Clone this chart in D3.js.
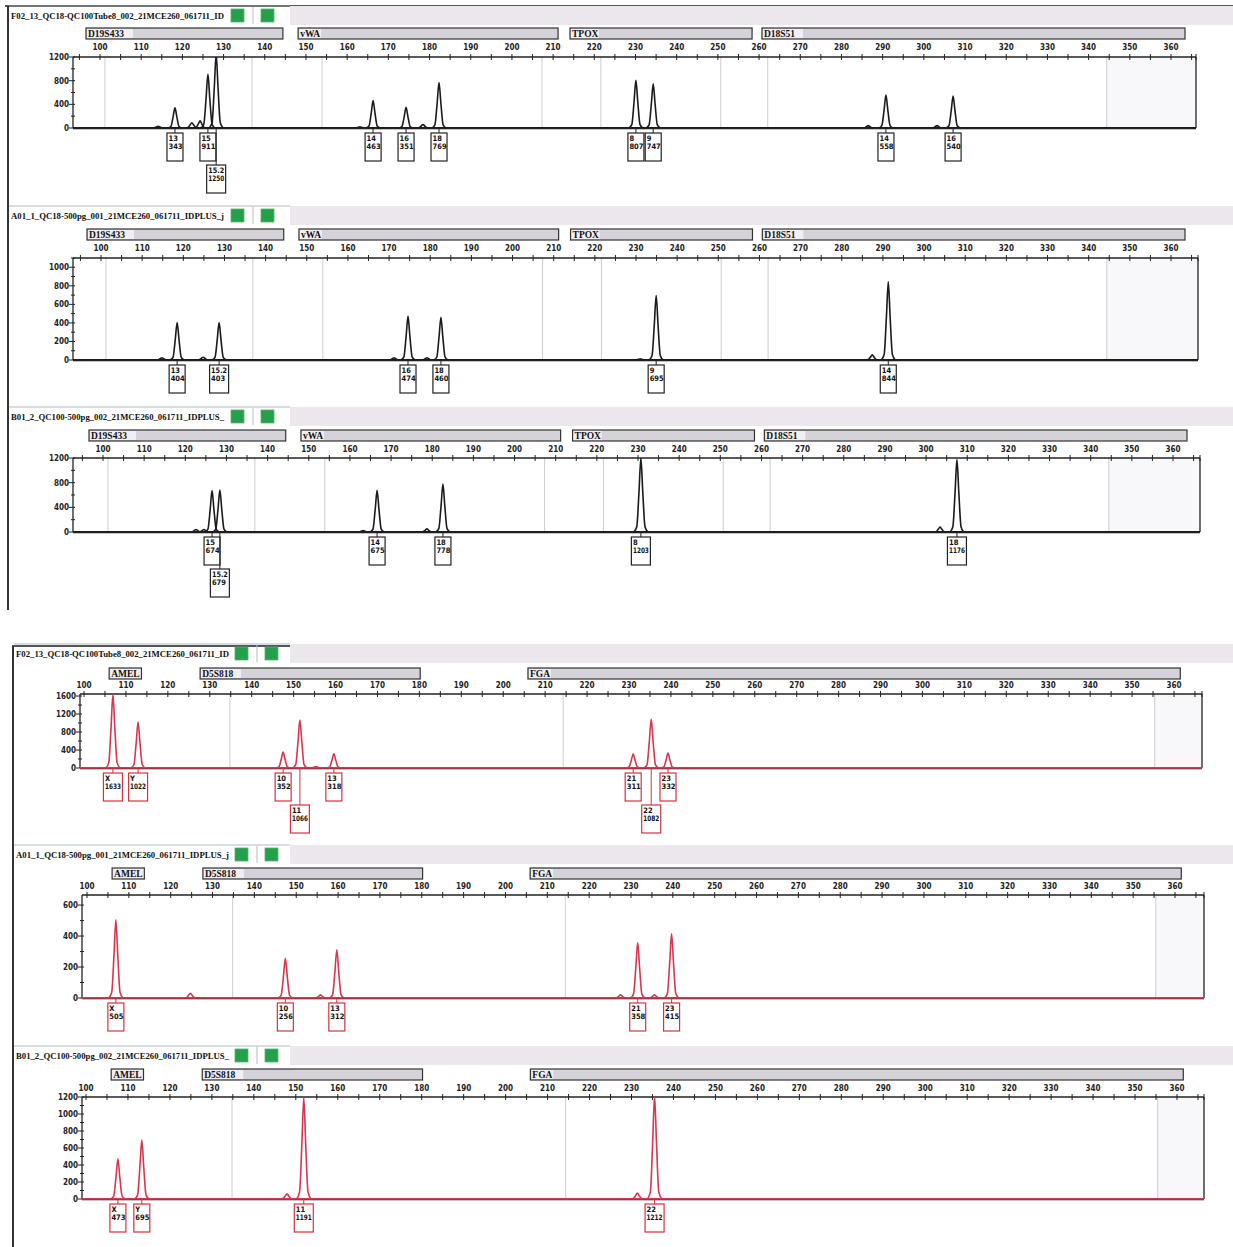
<!DOCTYPE html>
<html><head><meta charset="utf-8">
<script src="https://cdn.jsdelivr.net/npm/d3@7"></script>
<style>body{margin:0;background:#fff}svg{display:block}</style>
</head><body><svg id="c" width="1233" height="1247"></svg>
<script>
// ---------- data ----------
const sampleTitles = [
  "F02_13_QC18-QC100Tube8_002_21MCE260_061711_ID",
  "A01_1_QC18-500pg_001_21MCE260_061711_IDPLUS_j",
  "B01_2_QC100-500pg_002_21MCE260_061711_IDPLUS_",
  "F02_13_QC18-QC100Tube8_002_21MCE260_061711_ID",
  "A01_1_QC18-500pg_001_21MCE260_061711_IDPLUS_j",
  "B01_2_QC100-500pg_002_21MCE260_061711_IDPLUS_"
];
const xTickValues = d3.range(100, 361, 10);
const xMinorValues = d3.range(95, 366, 5);

const blueMarkers = ["D19S433", "vWA", "TPOX", "D18S51"];
const blueMarkerStart = [96.6, 148.1, 214.1, 260.7];
const blueMarkerEnd = [144.4, 211.2, 258.3, 363.4];
const blueBins = [101.2, 136.9, 153.9, 207.3, 221.6, 250.7, 262.1, 344.4];

const redMarkers = ["AMEL", "D5S818", "FGA"];
const redMarkerStart = [106.0, 127.7, 205.9];
const redMarkerEnd = [113.7, 180.2, 361.5];
const redBins = [134.8, 214.3, 355.4];

const yTicks = [
  [0, 400, 800, 1200],
  [0, 200, 400, 600, 800, 1000],
  [0, 400, 800, 1200],
  [0, 400, 800, 1200, 1600],
  [0, 200, 400, 600],
  [0, 200, 400, 600, 800, 1000, 1200]
];
const yMax = [1200, 1100, 1200, 1645, 665, 1200];

// peaks: [size (bp), height (RFU), allele label, label row]
const peaks1 = [[114.1,30],[118.2,343,"13",0],[122.3,90],[124.3,120],[126.2,911,"15",0],[128.2,1250,"15.2",1],
  [163.1,20],[166.3,463,"14",0],[174.3,351,"16",0],[178.4,60],[182.3,769,"18",0],
  [230.1,807,"8",0],[234.3,747,"9",0],[286.5,40],[290.8,558,"14",0],[303.2,40],[307.1,540,"16",0]];
const peaks2 = [[114.8,25],[118.5,404,"13",0],[124.8,30],[128.7,403,"15.2",0],[171.2,25],[174.6,474,"16",0],
  [179.2,25],[182.6,460,"18",0],[231,12],[234.9,695,"9",0],[287.4,55],[291.3,844,"14",0]];
const peaks3 = [[122.6,40],[124.5,40],[126.5,674,"15",0],[128.4,679,"15.2",1],[163.2,25],[166.6,675,"14",0],
  [178.7,50],[182.6,778,"18",0],[230.7,1203,"8",0],[303.4,80],[307.5,1176,"18",0]];
const peaks4 = [[106.9,1633,"X",0],[112.9,1022,"Y",0],[147.5,352,"10",0],[151.5,1066,"11",1],[155.3,30],
  [159.6,318,"13",0],[231,311,"21",0],[235.3,1082,"22",1],[239.3,332,"23",0]];
const peaks5 = [[106.9,505,"X",0],[124.7,30],[147.4,256,"10",0],[155.8,20],[159.7,312,"13",0],
  [227.5,20],[231.6,358,"21",0],[235.6,20],[239.7,415,"23",0]];
const peaks6 = [[107.6,473,"X",0],[113.3,695,"Y",0],[147.9,60],[151.9,1191,"11",0],[231.4,70],[235.5,1212,"22",0]];
const allPeaks = [peaks1, peaks2, peaks3, peaks4, peaks5, peaks6];

// ---------- layout ----------
const layout = [
  {title:16, bar:28, tick:50, top:57, base:128, left:73, right:1196, x100:100, x360:1171, red:false},
  {title:216, bar:229, tick:251, top:258, base:360, left:73, right:1198, x100:101, x360:1171, red:false},
  {title:417, bar:430, tick:452, top:458, base:532, left:73, right:1200, x100:103, x360:1173, red:false},
  {title:654, bar:668, tick:688, top:694, base:768, left:80, right:1202, x100:84, x360:1174, red:true},
  {title:855, bar:868, tick:889, top:895, base:998, left:82, right:1204, x100:87, x360:1175, red:true},
  {title:1056, bar:1069, tick:1091, top:1097, base:1199, left:82, right:1204, x100:86, x360:1177, red:true}
];

const svg = d3.select("#c");
const condensed = "'Liberation Sans Narrow','DejaVu Sans Condensed','Arial Narrow',sans-serif";
const serif = "'Liberation Serif','DejaVu Serif',serif";

// section borders
svg.append("line").attr("x1",5).attr("x2",1233).attr("y1",6).attr("y2",6).attr("stroke","#555").attr("stroke-width",2);
svg.append("line").attr("x1",8).attr("x2",8).attr("y1",6).attr("y2",610).attr("stroke","#333").attr("stroke-width",2);
svg.append("line").attr("x1",12).attr("x2",1233).attr("y1",646).attr("y2",646).attr("stroke","#555").attr("stroke-width",2);
svg.append("line").attr("x1",13).attr("x2",13).attr("y1",646).attr("y2",1247).attr("stroke","#333").attr("stroke-width",2);

layout.forEach((L, i) => {
  const g = svg.append("g");
  const trace = L.red ? "#d8354f" : "#1a1a1a";
  const boxCol = L.red ? "#d8303f" : "#222";
  const x = d3.scaleLinear().domain([100, 360]).range([L.x100, L.x360]);
  const y = d3.scaleLinear().domain([0, yMax[i]]).range([L.base, L.top]);
  const hx = L.red ? 14 : 9;

  // header band
  g.append("rect").attr("x", 290).attr("y", L.title - 10).attr("width", 943).attr("height", 19)
    .attr("fill", "#ebe7ec");
  g.append("line").attr("x1", hx).attr("x2", 290).attr("y1", L.title - 10).attr("y2", L.title - 10)
    .attr("stroke", "#9ab").attr("stroke-width", 0.8);
  g.append("text").attr("x", hx + 2).attr("y", L.title + 3).text(sampleTitles[i])
    .attr("font-family", serif).attr("font-weight", "bold").attr("font-size", 9)
    .attr("textLength", 213).attr("lengthAdjust", "spacingAndGlyphs").attr("fill", "#111");
  [0, 1].forEach(k => {
    const gx = (L.red ? 235 : 231) + k * 30;
    g.append("rect").attr("x", gx).attr("y", L.title - 7).attr("width", 13).attr("height", 13)
      .attr("fill", "#23a04a").attr("stroke", "#6a7").attr("stroke-width", 0.8);
  });
  g.append("line").attr("x1", (L.red ? 235 : 231) + 22).attr("x2", (L.red ? 235 : 231) + 22)
    .attr("y1", L.title - 9).attr("y2", L.title + 8).attr("stroke", "#bbb");

  // marker bars
  const mk = L.red ? redMarkers : blueMarkers;
  const ms = L.red ? redMarkerStart : blueMarkerStart;
  const me = L.red ? redMarkerEnd : blueMarkerEnd;
  mk.forEach((m, j) => {
    const x0 = x(ms[j]), x1 = x(me[j]);
    g.append("rect").attr("x", x0).attr("y", L.bar).attr("width", x1 - x0).attr("height", 11)
      .attr("fill", m === "AMEL" ? "#e4e0e6" : "#d6d2d9").attr("stroke", "#333").attr("stroke-width", 1.2);
    g.append("rect").attr("x", x0 + 1).attr("y", L.bar + 1).attr("width", m === "AMEL" ? x1 - x0 - 2 : m.length * 6 + 4).attr("height", 9)
      .attr("fill", "#f1eff3");
    g.append("text").attr("x", x0 + 2).attr("y", L.bar + 9).text(m)
      .attr("font-family", serif).attr("font-weight", "bold").attr("font-size", 9.5).attr("fill", "#111");
  });

  // bins / shading
  const bins = L.red ? redBins : blueBins;
  const last = bins[bins.length - 1];
  g.append("rect").attr("x", x(last)).attr("y", L.top).attr("width", L.right - x(last)).attr("height", L.base - L.top)
    .attr("fill", "#f8f7fa");
  bins.forEach(b => {
    g.append("line").attr("x1", x(b)).attr("x2", x(b)).attr("y1", L.top).attr("y2", L.base)
      .attr("stroke", "#cfccd2").attr("stroke-width", 1);
  });

  // x axis (top)
  g.append("line").attr("x1", L.left).attr("x2", L.right).attr("y1", L.top).attr("y2", L.top)
    .attr("stroke", "#222").attr("stroke-width", 1.6);
  xMinorValues.filter(v => x(v) > L.left + 2 && x(v) < L.right).forEach(v => {
    g.append("line").attr("x1", x(v)).attr("x2", x(v)).attr("y1", L.top - 3).attr("y2", L.top + 3)
      .attr("stroke", "#222").attr("stroke-width", 1);
  });
  g.append("line").attr("x1", L.right).attr("x2", L.right).attr("y1", L.top - 3).attr("y2", L.top + 3).attr("stroke", "#222");
  xTickValues.forEach(v => {
    g.append("text").attr("x", x(v)).attr("y", L.tick).attr("text-anchor", "middle").text(v)
      .attr("font-family", condensed).attr("font-weight", "bold").attr("font-size", 8).attr("fill", "#222");
  });

  // y axis
  g.append("line").attr("x1", L.left).attr("x2", L.left).attr("y1", L.top).attr("y2", L.base)
    .attr("stroke", "#222").attr("stroke-width", 1.3);
  g.append("line").attr("x1", L.right).attr("x2", L.right).attr("y1", L.top).attr("y2", L.base)
    .attr("stroke", "#222").attr("stroke-width", 1.3);
  const yt = yTicks[i];
  const step = yt[1] - yt[0];
  d3.range(0, yMax[i] + 1, step / 2).forEach(v => {
    const major = yt.includes(v);
    g.append("line").attr("x1", L.left - (major ? 4 : 2)).attr("x2", L.left + 2).attr("y1", y(v)).attr("y2", y(v))
      .attr("stroke", "#222").attr("stroke-width", 1);
  });
  yt.forEach(v => {
    g.append("text").attr("x", L.left - 4).attr("y", y(v) + 3).attr("text-anchor", "end").text(v)
      .attr("font-family", condensed).attr("font-weight", "bold").attr("font-size", 8).attr("fill", "#222");
  });

  // traces
  const clipId = "clip" + i;
  svg.append("clipPath").attr("id", clipId).append("rect")
    .attr("x", L.left).attr("y", L.top).attr("width", L.right - L.left).attr("height", L.base - L.top + 2);
  const tg = g.append("g").attr("clip-path", `url(#${clipId})`);
  const peakLine = d3.line().x(d => x(d[0])).y(d => y(d[1])).curve(d3.curveMonotoneX);
  const shape = [[-1.7, 0], [-1.0, 0.07], [-0.45, 0.55], [0, 1], [0.45, 0.55], [1.0, 0.07], [1.7, 0]];
  allPeaks[i].forEach(p => {
    const pts = shape.map(s => [p[0] + s[0], s[1] * p[1]]);
    tg.append("path").attr("d", peakLine(pts)).attr("fill", "none").attr("stroke", trace).attr("stroke-width", 1.6);
  });
  tg.append("line").attr("x1", L.left).attr("x2", L.right).attr("y1", y(0)).attr("y2", y(0))
    .attr("stroke", trace).attr("stroke-width", 1.8);
  g.append("line").attr("x1", L.left).attr("x2", L.right).attr("y1", y(0) + 1).attr("y2", y(0) + 1)
    .attr("stroke", "#333").attr("stroke-width", 0.6);

  // label boxes
  allPeaks[i].filter(p => p[2] !== undefined).forEach(p => {
    const px = x(p[0]);
    const txt = String(p[1]);
    const wide = Math.max(txt.length, p[2].length) >= 4;
    const w = wide ? 19 : 16;
    const by = L.base + 5 + p[3] * 32;
    g.append("line").attr("x1", px).attr("x2", px).attr("y1", L.base).attr("y2", by)
      .attr("stroke", boxCol).attr("stroke-width", 1);
    g.append("rect").attr("x", px - w / 2).attr("y", by).attr("width", w).attr("height", 28)
      .attr("fill", "#fff").attr("stroke", boxCol).attr("stroke-width", 1.2);
    [p[2], txt].forEach((s, k) => {
      const t = g.append("text").attr("x", px - w / 2 + 1.5).attr("y", by + 8 + k * 8).text(s)
        .attr("font-family", condensed).attr("font-weight", "bold").attr("font-size", 7.5).attr("fill", "#111");
      if (s.length >= 4) t.attr("textLength", w - 3).attr("lengthAdjust", "spacingAndGlyphs");
    });
  });
});
</script></body></html>
